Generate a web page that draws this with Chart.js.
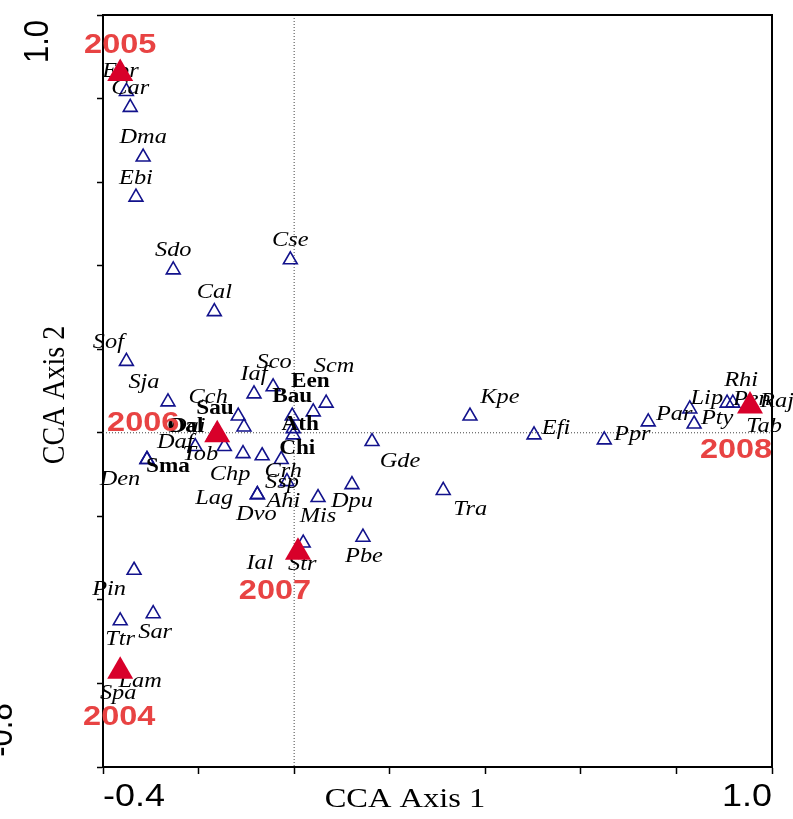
<!DOCTYPE html>
<html>
<head>
<meta charset="utf-8">
<script src="https://cdn.jsdelivr.net/npm/chart.js@4.4.1/dist/chart.umd.min.js"></script>
<style>
  body { margin: 0; background: #fff; }
  #wrap { width: 793px; height: 819px; }
</style>
</head>
<body>
<div id="wrap"><canvas id="cca-chart" width="793" height="819"></canvas></div>
<script>
// species scores on the first two CCA axes
var speciesNames = ['Ebr', 'Car', 'Dma', 'Ebi', 'Sdo', 'Cal', 'Cse', 'Sof', 'Sja', 'Iaf',
    'Sco', 'Scm', 'Een', 'Bau', 'Cch', 'Sau', 'Ath', 'Chi', 'Oal', 'Dai',
    'Daf', 'Tob', 'Sma', 'Den', 'Chp', 'Lag', 'Crh', 'Ssp', 'Ahi', 'Dvo',
    'Mis', 'Dpu', 'Gde', 'Pbe', 'Str', 'Ial', 'Kpe', 'Efi', 'Tra', 'Ppr',
    'Par', 'Lip', 'Pty', 'Rhi', 'Pen', 'Raj', 'Tab', 'Pin', 'Ttr', 'Sar',
    'Lam', 'Spa'];
var speciesAxis1 = [-0.351, -0.343, -0.316, -0.331, -0.253, -0.167, -0.008, -0.351, -0.264, -0.084,
    -0.044, 0.067, 0.040, -0.004, -0.117, -0.105, -0.002, -0.002, -0.167, -0.159,
    -0.207, -0.146, -0.308, -0.308, -0.107, -0.067, -0.027, -0.015, -0.077, -0.077,
    0.050, 0.121, 0.163, 0.144, 0.019, 0.008, 0.368, 0.502, 0.312, 0.649,
    0.741, 0.828, 0.837, 0.906, 0.918, 0.954, 0.954, -0.335, -0.364, -0.295,
    -0.364, -0.364];
var speciesAxis2 = [0.817, 0.779, 0.660, 0.564, 0.390, 0.290, 0.414, 0.171, 0.074, 0.093,
    0.110, 0.071, 0.050, 0.040, 0.040, 0.014, 0.010, -0.005, -0.005, -0.005,
    -0.033, -0.033, -0.064, -0.064, -0.050, -0.055, -0.064, -0.117, -0.148, -0.148,
    -0.155, -0.124, -0.021, -0.250, -0.264, -0.286, 0.040, -0.005, -0.138, -0.017,
    0.026, 0.057, 0.021, 0.071, 0.071, 0.064, 0.064, -0.329, -0.450, -0.433,
    -0.571, -0.571];

// sampling years (centroids)
var years = ['2004', '2005', '2006', '2007', '2008'];
var yearAxis1 = [-0.364, -0.364, -0.161, 0.008, 0.954];
var yearAxis2 = [-0.571, 0.860, -0.005, -0.286, 0.064];

// axis ticks
var axis1Ticks = ['-0.4', '1.0'];
var axis2Ticks = ['1.0', '-0.8'];

// labels set in bold
var boldNames = ['Sau', 'Bau', 'Een', 'Ath', 'Chi', 'Sma', 'Oal'];

// where each label sits relative to its marker (px)
var labelShift = {
    Ebr: [-6, -20], Car: [0, -19], Dma: [0, -20], Ebi: [0, -19], Sdo: [0, -19],
    Cal: [0, -19], Cse: [0, -19], Sof: [-18, -19], Sja: [-24, -19], Iaf: [0, -19],
    Sco: [1, -24], Scm: [8, -37], Een: [-3, -30], Bau: [0, -19], Cch: [-30, -19],
    Sau: [-29, -18], Ath: [7, -4], Chi: [4, 14], Oal: [-29, -8], Dai: [-31, -8],
    Daf: [-20, -4], Tob: [-24, 8], Sma: [21, 7], Den: [-27, 20], Chp: [-13, 21],
    Lag: [-48, 43], Crh: [2, 12], Ssp: [-5, 1], Ahi: [26, 7], Dvo: [-1, 20],
    Mis: [0, 19], Dpu: [0, 17], Gde: [28, 20], Pbe: [1, 19], Str: [-1, 21],
    Ial: [-38, 11], Kpe: [30, -19], Efi: [22, -6], Tra: [27, 19], Ppr: [28, -5],
    Par: [26, -7], Lip: [17, -10], Pty: [23, -6], Rhi: [14, -23], Pen: [19, -4],
    Raj: [27, -5], Tab: [14, 20], Pin: [-25, 19], Ttr: [0, 19], Sar: [2, 19],
    Lam: [20, 10], Spa: [-2, 22]
};
var yearShift = [[-1, 46], [0, -28], [-74, -12], [-23, 39], [-14, 44]];

var STRETCH = 1.16;

function drawText(ctx, text, x, y, rotate) {
    ctx.save();
    ctx.translate(x, y);
    ctx.scale(STRETCH, 1);
    if (rotate) ctx.rotate(-Math.PI / 2);
    ctx.fillText(text, 0, 0);
    ctx.restore();
}

var speciesPoints = speciesNames.map(function(n, i) {
    return { x: speciesAxis1[i], y: speciesAxis2[i] };
});
var yearPoints = years.map(function(n, i) {
    return { x: yearAxis1[i], y: yearAxis2[i] };
});

// dotted origin lines and the top / right frame
var framePlugin = {
    id: 'frame',
    beforeDatasetsDraw: function(chart) {
        var ctx = chart.ctx, a = chart.chartArea;
        var x0 = chart.scales.x.getPixelForValue(0);
        var y0 = chart.scales.y.getPixelForValue(0);
        ctx.save();
        ctx.strokeStyle = '#444';
        ctx.lineWidth = 1;
        ctx.setLineDash([1, 2]);
        ctx.beginPath();
        ctx.moveTo(x0, a.top);
        ctx.lineTo(x0, a.bottom);
        ctx.moveTo(a.left, y0);
        ctx.lineTo(a.right, y0);
        ctx.stroke();
        ctx.setLineDash([]);
        ctx.strokeStyle = '#000';
        ctx.lineWidth = 2;
        ctx.beginPath();
        ctx.moveTo(a.left, a.top);
        ctx.lineTo(a.right, a.top);
        ctx.lineTo(a.right, a.bottom);
        ctx.stroke();
        ctx.restore();
    },
    afterDatasetDraw: function(chart, args) {
        if (args.index !== 0) return;
        var ctx = chart.ctx;
        var meta = chart.getDatasetMeta(0);
        ctx.save();
        ctx.fillStyle = '#000';
        ctx.textAlign = 'center';
        ctx.textBaseline = 'middle';
        meta.data.forEach(function(pt, i) {
            var name = speciesNames[i];
            var s = labelShift[name] || [0, -19];
            ctx.font = boldNames.indexOf(name) >= 0 ? 'bold 20px "Liberation Serif"' : 'italic 21px "Liberation Serif"';
            drawText(ctx, name, pt.x + s[0], pt.y + s[1]);
        });
        ctx.restore();
    },
    afterDatasetsDraw: function(chart) {
        var ctx = chart.ctx, a = chart.chartArea;
        var meta = chart.getDatasetMeta(1);
        ctx.save();
        ctx.textAlign = 'center';
        ctx.textBaseline = 'middle';
        ctx.fillStyle = '#e84343';
        ctx.font = 'bold 28px "Liberation Sans"';
        meta.data.forEach(function(pt, i) {
            drawText(ctx, years[i], pt.x + yearShift[i][0], pt.y + yearShift[i][1]);
        });

        // end tick labels
        ctx.fillStyle = '#000';
        ctx.font = '31px "Liberation Sans"';
        ctx.textAlign = 'left';
        drawText(ctx, axis1Ticks[0], a.left, 797);
        ctx.textAlign = 'right';
        drawText(ctx, axis1Ticks[1], a.right, 797);
        ctx.textAlign = 'right';
        drawText(ctx, axis2Ticks[0], 38, a.top + 5, true);
        ctx.textAlign = 'center';
        drawText(ctx, axis2Ticks[1], 2, 730, true);

        // axis titles
        ctx.font = '28px "Liberation Serif"';
        ctx.textAlign = 'center';
        drawText(ctx, 'CCA Axis 1', 405, 800);
        drawText(ctx, 'CCA Axis 2', 55, 395, true);
        ctx.restore();
    }
};

new Chart(document.getElementById('cca-chart'), {
    type: 'scatter',
    data: {
        datasets: [{
            label: 'Species',
            data: speciesPoints,
            pointStyle: 'triangle',
            pointRadius: 8,
            borderColor: '#12128c',
            backgroundColor: 'rgba(0,0,0,0)',
            borderWidth: 1.6,
            order: 2
        }, {
            label: 'Year',
            data: yearPoints,
            pointStyle: 'triangle',
            pointRadius: 15,
            borderColor: '#d8002a',
            backgroundColor: '#d8002a',
            borderWidth: 0,
            order: 1
        }]
    },
    options: {
        responsive: false,
        animation: false,
        layout: { padding: { left: 0, top: 7, right: 21, bottom: 0 } },
        plugins: {
            legend: { display: false },
            tooltip: { enabled: false }
        },
        scales: {
            x: {
                type: 'linear',
                min: -0.4,
                max: 1.0,
                ticks: { stepSize: 0.2, display: false },
                grid: { drawOnChartArea: false, tickLength: 7, tickWidth: 1.5, tickColor: '#000' },
                border: { color: '#000', width: 2 },
                afterFit: function(scale) { scale.height = 52; }
            },
            y: {
                type: 'linear',
                min: -0.8,
                max: 1.0,
                ticks: { stepSize: 0.2, display: false },
                grid: { drawOnChartArea: false, tickLength: 6, tickWidth: 1.5, tickColor: '#000' },
                border: { color: '#000', width: 2 },
                afterFit: function(scale) { scale.width = 103; }
            }
        }
    },
    plugins: [framePlugin]
});
</script>
</body>
</html>
